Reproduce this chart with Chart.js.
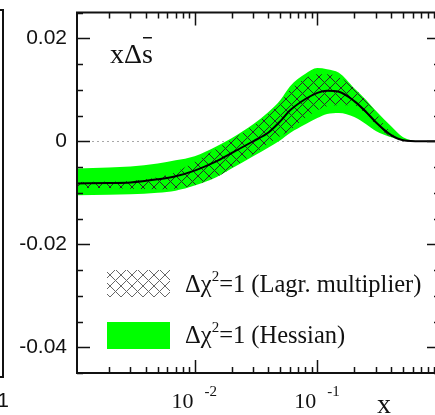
<!DOCTYPE html>
<html>
<head>
<meta charset="utf-8">
<script src="https://cdn.jsdelivr.net/npm/chart.js@4.4.1/dist/chart.umd.min.js"></script>
<style>
  html, body { margin: 0; padding: 0; background: #fff; overflow: hidden; }
  #wrap { width: 435px; height: 415px; overflow: hidden; }
</style>
</head>
<body>
<div id="wrap"><canvas id="c" width="445" height="415"></canvas></div>
<script>
// x grid (log axis) and curves
const xVals   = [0.0011, 0.002, 0.003, 0.005, 0.007, 0.01, 0.015, 0.02, 0.03, 0.04, 0.05, 0.06, 0.08, 0.1, 0.12, 0.15, 0.2, 0.25, 0.3, 0.4, 0.5, 0.7, 1.0];
const central = [-0.0082, -0.0081, -0.0080, -0.0074, -0.0068, -0.0057, -0.0039, -0.0023, 0.0000, 0.0017, 0.0039, 0.0060, 0.0082, 0.0094, 0.0098, 0.0096, 0.0078, 0.0057, 0.0037, 0.0012, 0.0002, 0, 0];
const hessHi  = [-0.0053, -0.0051, -0.0049, -0.0043, -0.0037, -0.0029, -0.0010, 0.0006, 0.0033, 0.0057, 0.0080, 0.0107, 0.0131, 0.0142, 0.0140, 0.0133, 0.0103, 0.0080, 0.0059, 0.0029, 0.0008, 0, 0];
const hessLo  = [-0.0105, -0.0104, -0.0103, -0.0100, -0.0096, -0.0086, -0.0070, -0.0053, -0.0029, -0.0012, 0.0002, 0.0016, 0.0033, 0.0045, 0.0053, 0.0055, 0.0047, 0.0033, 0.0020, 0.0008, 0.0002, 0, 0];
const lagrHi  = [-0.0079, -0.0078, -0.0077, -0.0070, -0.0060, -0.0040, -0.0015, 0.0003, 0.0030, 0.0053, 0.0075, 0.0100, 0.0122, 0.0130, 0.0130, 0.0125, 0.0103, 0.0078, 0.0055, 0.0016, 0.0003, 0, 0];
const lagrLo  = [-0.0091, -0.0091, -0.0092, -0.0093, -0.0092, -0.0085, -0.0070, -0.0052, -0.0025, -0.0005, 0.0010, 0.0022, 0.0045, 0.0060, 0.0068, 0.0070, 0.0070, 0.0052, 0.0032, 0.0008, 0.0001, 0, 0];

const yMajorVals = [0.02, 0, -0.02, -0.04];
const yTickLabels = ['0.02', '0', '-0.02', '-0.04'];
const xDecades = [-2, -1];
const legendLabels = ['(Lagr. multiplier)', '(Hessian)'];

const GREEN = '#00ff00';
const SERIF = '"Liberation Serif", "Times New Roman", serif';
const SANS = '"Liberation Sans", Arial, sans-serif';

const canvas = document.getElementById('c');
const ctx = canvas.getContext('2d');

function makeHatch(color) {
  const s = 11;
  const t = document.createElement('canvas');
  t.width = s; t.height = s;
  const g = t.getContext('2d');
  g.strokeStyle = color;
  g.lineWidth = 1;
  g.beginPath();
  g.moveTo(-1, -1); g.lineTo(s + 1, s + 1);
  g.moveTo(s + 1, -1); g.lineTo(-1, s + 1);
  g.stroke();
  return ctx.createPattern(t, 'repeat');
}
const hatch = makeHatch('#2a2a2a');
const hatchLegend = makeHatch('#666');

const pts = arr => arr.map((v, i) => ({ x: xVals[i], y: v }));

// draw frame, inward ticks, labels, legend
const decor = {
  id: 'decor',
  beforeDatasetsDraw(chart) {
    const { ctx, chartArea: a, scales: { y } } = chart;
    const y0 = y.getPixelForValue(0);
    ctx.save();
    ctx.strokeStyle = '#a8a8a8';
    ctx.lineWidth = 1;
    ctx.setLineDash([2, 3]);
    ctx.beginPath();
    ctx.moveTo(a.left, Math.round(y0) + 0.5);
    ctx.lineTo(a.right, Math.round(y0) + 0.5);
    ctx.stroke();
    ctx.restore();
  },
  afterDraw(chart) {
    const { ctx, chartArea: a, scales: { x, y } } = chart;
    ctx.save();
    ctx.strokeStyle = '#111';
    ctx.lineWidth = 2;
    ctx.strokeRect(a.left, a.top, a.right - a.left, a.bottom - a.top);

    ctx.lineWidth = 1.5;
    ctx.beginPath();
    // y ticks every 0.005, long ones on labelled values
    for (let k = -9; k <= 5; k++) {
      const v = k * 0.005;
      const py = Math.round(y.getPixelForValue(v)) + 0.5;
      const major = yMajorVals.some(m => Math.abs(m - v) < 1e-9);
      const len = major ? 13 : 6;
      ctx.moveTo(a.left, py); ctx.lineTo(a.left + len, py);
      ctx.moveTo(a.right, py); ctx.lineTo(a.right - len, py);
    }
    // log x ticks
    for (let e = -3; e <= 0; e++) {
      for (let m = 1; m <= 9; m++) {
        const v = m * Math.pow(10, e);
        if (v < x.min || v > x.max) continue;
        const px = Math.round(x.getPixelForValue(v)) + 0.5;
        const len = m === 1 ? 13 : 6;
        ctx.moveTo(px, a.top); ctx.lineTo(px, a.top + len);
        ctx.moveTo(px, a.bottom); ctx.lineTo(px, a.bottom - len);
      }
    }
    ctx.stroke();

    // x tick labels 10^-n
    ctx.fillStyle = '#111';
    xDecades.forEach(e => {
      const px = x.getPixelForValue(Math.pow(10, e));
      ctx.font = '22px ' + SERIF;
      ctx.textAlign = 'right';
      ctx.fillText('10', px - 1, 408);
      ctx.font = '15px ' + SERIF;
      ctx.textAlign = 'left';
      ctx.fillText('-' + (-e), px + 10, 396);
    });
    ctx.textAlign = 'left';
    ctx.font = '28px ' + SERIF;
    ctx.fillText('x', 377, 413);

    // panel label x Delta s-bar
    ctx.font = '28px ' + SERIF;
    ctx.fillText('x\u0394s', 110, 63);
    const wxd = ctx.measureText('x\u0394').width;
    const ws = ctx.measureText('s').width;
    ctx.fillRect(110 + wxd + 1, 37, ws - 2, 1.5);

    // legend
    const rows = [
      { y: 270, fill: hatchLegend, text: legendLabels[0], base: 292 },
      { y: 322, fill: GREEN, text: legendLabels[1], base: 343 }
    ];
    rows.forEach(r => {
      ctx.fillStyle = r.fill;
      ctx.fillRect(107, r.y, 63, 27);
      ctx.fillStyle = '#111';
      let tx = 185;
      ctx.font = '24.5px ' + SERIF;
      ctx.fillText('\u0394\u03c7', tx, r.base);
      tx += ctx.measureText('\u0394\u03c7').width;
      ctx.font = '15px ' + SERIF;
      ctx.fillText('2', tx, r.base - 11);
      tx += ctx.measureText('2').width;
      ctx.font = '24.5px ' + SERIF;
      ctx.fillText('=1 ' + r.text, tx, r.base);
    });

    // edge of the neighbouring panel
    ctx.strokeStyle = '#111';
    ctx.lineWidth = 2;
    ctx.beginPath();
    ctx.moveTo(0, 10); ctx.lineTo(3, 10); ctx.lineTo(3, 377); ctx.lineTo(0, 377);
    ctx.stroke();
    ctx.font = '21px ' + SANS;
    ctx.textAlign = 'right';
    ctx.fillText('1', 9, 407);
    ctx.restore();
  }
};

new Chart(canvas, {
  type: 'line',
  data: {
    datasets: [
      { data: pts(central), borderColor: '#000', borderWidth: 2, fill: false },
      { data: pts(lagrHi), borderWidth: 0, borderColor: 'rgba(0,0,0,0)', backgroundColor: hatch, fill: '+1' },
      { data: pts(lagrLo), borderWidth: 0, borderColor: 'rgba(0,0,0,0)', fill: false },
      { data: pts(hessHi), borderWidth: 0, borderColor: 'rgba(0,0,0,0)', backgroundColor: GREEN, fill: '+1' },
      { data: pts(hessLo), borderWidth: 0, borderColor: 'rgba(0,0,0,0)', fill: false }
    ]
  },
  options: {
    responsive: false,
    animation: false,
    elements: { point: { radius: 0 }, line: { cubicInterpolationMode: 'monotone' } },
    layout: { padding: { top: 12.5, right: 5, bottom: 42, left: 0 } },
    plugins: { legend: { display: false }, tooltip: { enabled: false } },
    scales: {
      x: { type: 'logarithmic', min: 0.0011, max: 1, display: false },
      y: {
        min: -0.045, max: 0.025,
        grid: { display: false, drawTicks: false },
        border: { display: false },
        afterFit(scale) { scale.width = 77; scale.paddingTop = 0; scale.paddingBottom = 0; },
        ticks: {
          stepSize: 0.005,
          autoSkip: false,
          padding: 10,
          color: '#111',
          font: { family: SANS, size: 21 },
          callback(v) {
            const i = yMajorVals.findIndex(m => Math.abs(m - v) < 1e-9);
            return i >= 0 ? yTickLabels[i] : '';
          }
        }
      }
    }
  },
  plugins: [decor]
});
</script>
</body>
</html>
